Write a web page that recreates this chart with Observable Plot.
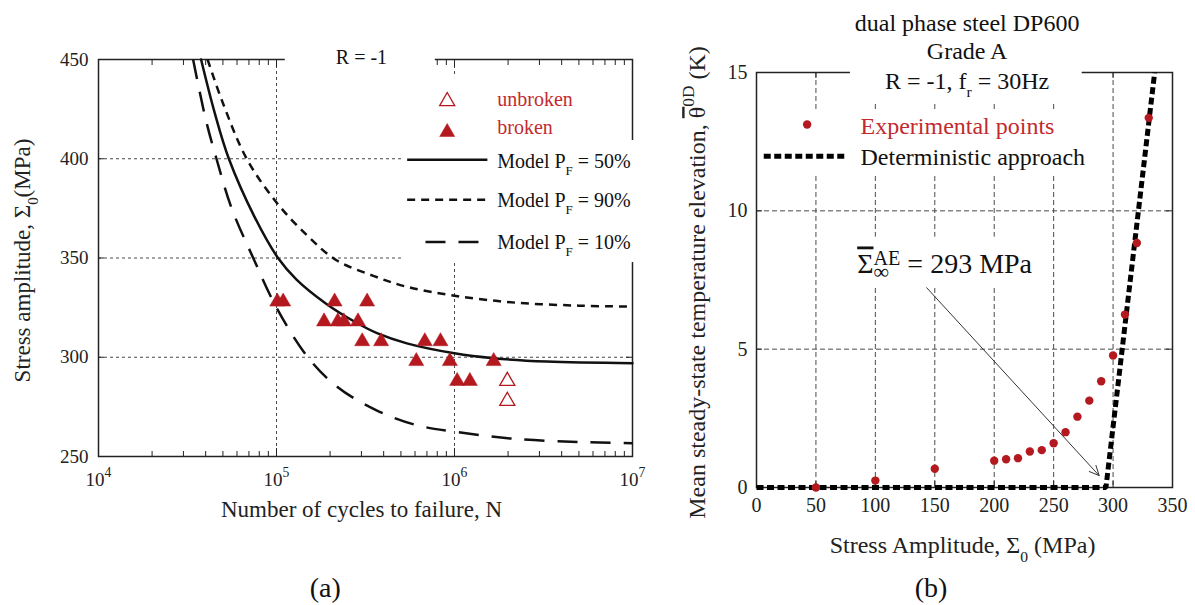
<!DOCTYPE html>
<html><head><meta charset="utf-8">
<script src="https://cdn.jsdelivr.net/npm/d3@7"></script>
<script src="https://cdn.jsdelivr.net/npm/@observablehq/plot@0.6"></script>
<style>
html,body{margin:0;padding:0;background:#fff;}
#wrap{position:relative;width:1195px;height:605px;overflow:hidden;background:#fff;}
#wrap svg{position:absolute;top:0;background:transparent;}
</style></head><body><div id="wrap"></div>
<script>
// ===== Panel (a): S-N data =====
const brokenN = [1.01e5, 1.09e5, 2.12e5, 3.23e5, 1.85e5, 2.21e5, 2.39e5, 2.87e5, 3.03e5, 3.87e5, 6.81e5, 8.34e5, 6.1e5, 9.42e5, 1.66e6, 1.035e6, 1.22e6];
const brokenS = [330, 330, 330, 330, 320, 320, 320, 320, 310, 310, 310, 310, 300, 300, 300, 290, 290];
const unbrokenN = [1.98e6, 1.98e6];
const unbrokenS = [290, 280];
const model50N = [3.77e4, 4.5e4, 5.4e4, 7.5e4, 1.02e5, 1.3e5, 1.9e5, 2.8e5, 3.7e5, 5.4e5, 1e6, 1.66e6, 3.3e6, 1e7];
const model50S = [450, 423, 400, 371, 350, 339, 327, 317.5, 312, 307, 302, 299.5, 297.8, 297];
const model90N = [4.1e4, 5e4, 6.8e4, 1e5, 1.5e5, 2.16e5, 3.5e5, 5.4e5, 1e6, 2.2e6, 5e6, 1e7];
const model90S = [450, 428, 400, 378, 361, 349, 341, 335.5, 331, 327.5, 326, 325.5];
const model10N = [3.4e4, 4.0e4, 4.6e4, 5.6e4, 7.4e4, 1e5, 1.5e5, 2.2e5, 3.6e5, 6e5, 1e6, 2.1e6, 5e6, 1e7];
const model10S = [450, 420, 400, 375, 350, 325, 300, 285, 273.5, 266, 262.5, 259, 257.3, 256.7];
const xTicksA = [1e4, 1e5, 1e6, 1e7];
const yTicksA = [250, 300, 350, 400, 450];
const gridNA = [1e5, 1e6];
const gridSA = [300, 350, 400];
const minorNA = [1e4, 1e5, 1e6].flatMap(d => [2, 3, 4, 5, 6, 7, 8, 9].map(k => k * d));
const legendTextsA = ["unbroken", "broken", "Model P_{F} = 50%", "Model P_{F} = 90%", "Model P_{F} = 10%"];
const titleA = "R = -1";
const xLabelA = "Number of cycles to failure, N";
const yLabelA = "Stress amplitude, Σ_{0}(MPa)";

// ===== Panel (b): thermal data =====
const stressB = [50, 100, 150, 200, 210, 220, 230, 240, 250, 260, 270, 280, 290, 300, 310, 320, 330];
const thetaB = [0, 0.25, 0.68, 0.97, 1.02, 1.06, 1.3, 1.35, 1.6, 2.0, 2.56, 3.14, 3.84, 4.77, 6.25, 8.84, 13.36];
const detX = [0, 294, 335];
const detY = [0, 0, 15];
const xTicksB = [0, 50, 100, 150, 200, 250, 300, 350];
const yTicksB = [0, 5, 10, 15];
const gridXB = [50, 100, 150, 200, 250, 300];
const gridYB = [5, 10];
const titleB = ["dual phase steel DP600", "Grade A", "R = -1, f_{r} = 30Hz"];
const legendTextsB = ["Experimental points", "Deterministic approach"];
const annotB = "~{Σ}_{∞}^{AE} = 293 MPa";
const xLabelB = "Stress Amplitude, Σ_{0} (MPa)";
const yLabelB = "Mean steady-state temperature elevation, ~{θ}^{0D} (K)";

// ===== styles =====
const RED = "#b3191f", RED_TXT = "#c22a30", INK = "#111", GRID = "#4a4a4a";
const FONT = "Liberation Serif";

// ===== tables =====
const broken = brokenN.map((n, i) => ({n, s: brokenS[i]}));
const unbroken = unbrokenN.map((n, i) => ({n, s: unbrokenS[i]}));
const m50 = model50N.map((n, i) => ({n, s: model50S[i]}));
const m90 = model90N.map((n, i) => ({n, s: model90S[i]}));
const m10 = model10N.map((n, i) => ({n, s: model10S[i]}));
const expB = stressB.map((x, i) => ({x, y: thetaB[i]}));
const detB = detX.map((x, i) => ({x, y: detY[i]}));

// ---- panel (a) layout (data-space anchors for annotations) ----
const WA = 660, HA = 605, mlA = 98, mrA = 28, mtA = 59, mbA = 149;
const FWA = WA - mlA - mrA, FHA = HA - mtA - mbA;
const boxesA = [
  {x1: 1.12e5, x2: 7.8e5, y1: 445.5, y2: 455.5},
  {x1: 7.3e5, x2: 9.5e6, y1: 409.2, y2: 440.9},
  {x1: 5.1e5, x2: 1.18e7, y1: 347.7, y2: 409.2}
];
const legTxtX = 1.738e6;
const legA = [
  {x: legTxtX, y: 430.05, t: legendTextsA[0], c: RED_TXT},
  {x: legTxtX, y: 415.7, t: legendTextsA[1], c: RED_TXT},
  {x: legTxtX, y: 398.6, t: legendTextsA[2], c: INK},
  {x: legTxtX, y: 378.8, t: legendTextsA[3], c: INK},
  {x: legTxtX, y: 357.8, t: legendTextsA[4], c: INK}
];
const legL50 = [{n: 5.42e5, s: 399.5}, {n: 1.53e6, s: 399.5}];
const legL90 = [{n: 5.42e5, s: 379.3}, {n: 1.53e6, s: 379.3}];
const legL10 = [{n: 6.87e5, s: 358}, {n: 1.46e6, s: 358}];

const tri = {symbol: "triangle", r: 5.6, dy: 4};
const mid = {textAnchor: "middle", lineAnchor: "middle"};
const dash90 = {stroke: INK, strokeWidth: 2.5, strokeDasharray: "8,6", strokeLinecap: "butt"};
const dash10 = {stroke: INK, strokeWidth: 2.5, strokeDasharray: "20,13", strokeLinecap: "butt"};
const solid50 = {stroke: INK, strokeWidth: 2.5};
const plotA = Plot.plot({
  width: WA, height: HA, marginLeft: mlA, marginRight: mrA, marginTop: mtA, marginBottom: mbA,
  x: {type: "log", domain: [1e4, 1e7], axis: null},
  y: {domain: [250, 450], axis: null},
  style: {fontFamily: FONT, fontSize: "19px", background: "transparent", overflow: "visible"},
  marks: [
    Plot.ruleX(gridNA, {stroke: GRID, strokeWidth: 1, strokeDasharray: "3,3"}),
    Plot.ruleY(gridSA, {stroke: GRID, strokeWidth: 1, strokeDasharray: "3,3"}),
    Plot.ruleX(minorNA, {stroke: "#222", insetTop: FHA - 5}),
    Plot.ruleX(minorNA, {stroke: "#222", insetBottom: FHA - 6}),
    Plot.ruleX(gridNA, {stroke: "#222", insetTop: FHA - 8}),
    Plot.ruleX(gridNA, {stroke: "#222", insetBottom: FHA - 8}),
    Plot.ruleY(yTicksA, {stroke: "#222", insetRight: FWA - 6}),
    Plot.ruleY(yTicksA, {stroke: "#222", insetLeft: FWA - 6}),
    Plot.frame({stroke: "#222", strokeWidth: 1.5}),
    Plot.rect(boxesA, {x1: "x1", x2: "x2", y1: "y1", y2: "y2", fill: "white"}),
    Plot.line(m10, {x: "n", y: "s", curve: "catmull-rom", ...dash10}),
    Plot.line(m90, {x: "n", y: "s", curve: "catmull-rom", ...dash90}),
    Plot.line(m50, {x: "n", y: "s", curve: "catmull-rom", ...solid50}),
    Plot.dot(broken, {x: "n", y: "s", ...tri, fill: RED, stroke: RED, strokeWidth: 0.5}),
    Plot.dot(unbroken, {x: "n", y: "s", ...tri, fill: "white", stroke: RED, strokeWidth: 1.3}),
    // legend
    Plot.dot([{n: 9.1e5, s: 431}], {x: "n", y: "s", ...tri, fill: "white", stroke: RED, strokeWidth: 1.3}),
    Plot.dot([{n: 9.1e5, s: 415.4}], {x: "n", y: "s", ...tri, fill: RED, stroke: RED, strokeWidth: 0.5}),
    Plot.line(legL50, {x: "n", y: "s", ...solid50, strokeLinecap: "butt"}),
    Plot.line(legL90, {x: "n", y: "s", ...dash90}),
    Plot.line(legL10, {x: "n", y: "s", ...dash10}),
    Plot.text(legA, {x: "x", y: "y", text: "t", fill: "c", fontSize: 20, textAnchor: "start", lineAnchor: "middle"}),
    Plot.text([{x: 3.0e5, y: 451.06}], {x: "x", y: "y", text: () => titleA, fontSize: 20, fill: INK, ...mid}),
    // axes text
    Plot.text(xTicksA, {x: d => d, text: d => `10^{${Math.round(Math.log10(d))}}`, frameAnchor: "bottom", dy: 23, fontSize: 19, fill: "#222", ...mid}),
    Plot.text(yTicksA, {y: d => d, text: d => String(d), frameAnchor: "left", dx: -10, textAnchor: "end", lineAnchor: "middle", fontSize: 19, fill: "#222"}),
    Plot.text([xLabelA], {text: d => d, frameAnchor: "bottom", dx: -4, dy: 53.3, fontSize: 23, fill: "#222", ...mid}),
    Plot.text([yLabelA], {text: d => d, frameAnchor: "left", dx: -76, dy: 2.5, rotate: -90, fontSize: 23, fill: "#222", ...mid}),
    Plot.text([{x: 1.88e5}], {x: "x", text: () => "(a)", frameAnchor: "bottom", dy: 131.7, fontSize: 28, fill: "#111", ...mid})
  ]
});

// ---- panel (b) layout ----
const WB = 535, HB = 605, mlB = 96, mrB = 23, mtB = 72, mbB = 118;
const FWB = WB - mlB - mrB, FHB = HB - mtB - mbB;
const boxesB = [
  {x1: 79, x2: 274, y1: 13.85, y2: 15.6},
  {x1: 3, x2: 285, y1: 11.24, y2: 13.62},
  {x1: 79, x2: 243, y1: 7.2, y2: 9.05}
];
const titleRows = [
  {x: 177.2, y: 16.79, t: titleB[0]},
  {x: 177.2, y: 15.77, t: titleB[1]},
  {x: 177.2, y: 14.69, t: titleB[2]}
];
const legB = [
  {x: 87.5, y: 13.06, t: legendTextsB[0], c: RED_TXT},
  {x: 87.5, y: 11.92, t: legendTextsB[1], c: INK}
];
const legDet = [{x: 6.1, y: 11.97}, {x: 76.3, y: 11.97}];
const arrowB = [{x1: 143.2, y1: 7.22, x2: 288.3, y2: 0.43}];
const detStyle = {stroke: "#000", strokeWidth: 5, strokeDasharray: "7,3.5", strokeLinecap: "butt", strokeLinejoin: "miter"};

const plotB = Plot.plot({
  width: WB, height: HB, marginLeft: mlB, marginRight: mrB, marginTop: mtB, marginBottom: mbB,
  x: {domain: [0, 350], axis: null},
  y: {domain: [0, 15], axis: null},
  style: {fontFamily: FONT, fontSize: "20px", background: "transparent", overflow: "visible"},
  marks: [
    Plot.ruleX(gridXB, {stroke: GRID, strokeWidth: 1, strokeDasharray: "5,3"}),
    Plot.ruleY(gridYB, {stroke: GRID, strokeWidth: 1, strokeDasharray: "5,3"}),
    Plot.ruleX(gridXB, {stroke: "#222", insetTop: FHB - 6}),
    Plot.ruleX(gridXB, {stroke: "#222", insetBottom: FHB - 6}),
    Plot.ruleY(gridYB, {stroke: "#222", insetRight: FWB - 6}),
    Plot.ruleY(gridYB, {stroke: "#222", insetLeft: FWB - 6}),
    Plot.frame({stroke: "#222", strokeWidth: 1.5}),
    Plot.rect(boxesB, {x1: "x1", x2: "x2", y1: "y1", y2: "y2", fill: "white"}),
    Plot.line(detB, {x: "x", y: "y", ...detStyle}),
    Plot.arrow(arrowB, {x1: "x1", y1: "y1", x2: "x2", y2: "y2", stroke: "#333", strokeWidth: 1, headLength: 16, headAngle: 50}),
    Plot.dot(expB, {x: "x", y: "y", r: 4.2, fill: RED}),
    // legend
    Plot.dot([{x: 42.6, y: 13.12}], {x: "x", y: "y", r: 4.2, fill: RED}),
    Plot.line(legDet, {x: "x", y: "y", ...detStyle}),
    Plot.text(legB, {x: "x", y: "y", text: "t", fill: "c", fontSize: 24, textAnchor: "start", lineAnchor: "middle"}),
    Plot.text(titleRows, {x: "x", y: "y", text: "t", fontSize: 24, fill: "#111", ...mid}),
    Plot.text([{x: 84.7, y: 8.06}], {x: "x", y: "y", text: () => annotB, fontSize: 28, textAnchor: "start", lineAnchor: "middle", fill: "#111"}),
    // axes text
    Plot.text(xTicksB, {x: d => d, text: d => String(d), frameAnchor: "bottom", dy: 18.3, fontSize: 20, fill: "#222", ...mid}),
    Plot.text(yTicksB, {y: d => d, text: d => String(d), frameAnchor: "left", dx: -9, textAnchor: "end", lineAnchor: "middle", fontSize: 20, fill: "#222"}),
    Plot.text([xLabelB], {text: d => d, frameAnchor: "bottom", dx: -2, dy: 58.3, fontSize: 24, fill: "#222", ...mid}),
    Plot.text([yLabelB], {text: d => d, frameAnchor: "left", dx: -59, dy: 2.5, rotate: -90, fontSize: 24, fill: "#222", ...mid}),
    Plot.text([{x: 146.9}], {x: "x", text: () => "(b)", frameAnchor: "bottom", dy: 100.7, fontSize: 28, fill: "#111", ...mid})
  ]
});

const wrap = document.getElementById("wrap");
plotA.style.left = "0px";
plotB.style.left = "660px";
wrap.appendChild(plotA);
wrap.appendChild(plotB);

// ---- rich text: ^{sup}, _{sub}, ~{overline} ----
function richify(svg) {
  const ns = "http://www.w3.org/2000/svg";
  svg.querySelectorAll("text").forEach(t => {
    const s = t.textContent;
    if (!/[_^~]\{/.test(s)) return;
    const fs = parseFloat(getComputedStyle(t).fontSize) || 20;
    const toks = []; const re = /([_^~])\{([^}]*)\}/g; let m, last = 0;
    while ((m = re.exec(s))) {
      if (m.index > last) toks.push({k: "n", s: s.slice(last, m.index)});
      toks.push({k: m[1], s: m[2]}); last = re.lastIndex;
    }
    if (last < s.length) toks.push({k: "n", s: s.slice(last)});
    while (t.firstChild) t.removeChild(t.firstChild);
    let cur = 0, pendingDx = 0;
    toks.forEach((tk, i) => {
      const stackedSub = tk.k === "_" && toks[i + 1] && toks[i + 1].k === "^";
      const stackedSup = tk.k === "^" && toks[i - 1] && toks[i - 1].k === "_";
      let off = 0, size = fs;
      if (tk.k === "^") { off = -(stackedSup ? 0.3 : 0.45) * fs; size = fs * 0.72; }
      else if (tk.k === "_") { off = (stackedSub ? 0.2 : 0.36) * fs; size = fs * (stackedSub ? 0.78 : 0.65); }
      const sp = document.createElementNS(ns, "tspan");
      sp.textContent = tk.s;
      if (size !== fs) sp.setAttribute("font-size", size);
      if (off !== cur) { sp.setAttribute("dy", off - cur); cur = off; }
      if (tk.k === "~") { sp.setAttribute("text-decoration", "overline"); sp.style.textDecoration = "overline"; }
      let dx = pendingDx; pendingDx = 0;
      let prevW = 0;
      if (stackedSup) { prevW = t.lastChild.getComputedTextLength(); dx -= prevW; }
      if (dx) sp.setAttribute("dx", dx);
      t.appendChild(sp);
      if (stackedSup) { const w = sp.getComputedTextLength(); if (prevW > w) pendingDx = prevW - w; }
    });
  });
}
richify(plotA);
richify(plotB);
</script>
</body></html>
